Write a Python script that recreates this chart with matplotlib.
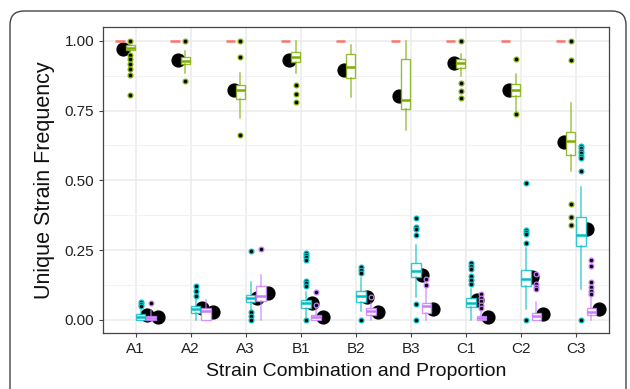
import numpy as np
import matplotlib
matplotlib.use('Agg')
import matplotlib.pyplot as plt
import matplotlib.patches as mpatches
import matplotlib.transforms as mtransforms
from matplotlib.colors import to_rgba

plt.rcParams['font.family'] = ['Liberation Sans', 'DejaVu Sans']

groups = ['A1', 'A2', 'A3', 'B1', 'B2', 'B3', 'C1', 'C2', 'C3']

# reference line (all 1.0)
red_vals = [1.0, 1.0, 1.0, 1.0, 1.0, 1.0, 1.0, 1.0, 1.0]

green_q1 = [0.965, 0.915, 0.790, 0.923, 0.867, 0.755, 0.904, 0.801, 0.590]
green_med = [0.975, 0.928, 0.825, 0.942, 0.906, 0.787, 0.921, 0.823, 0.640]
green_q3 = [0.985, 0.940, 0.843, 0.959, 0.951, 0.933, 0.936, 0.844, 0.674]
green_lo = [0.955, 0.883, 0.722, 0.885, 0.799, 0.680, 0.874, 0.736, 0.534]
green_hi = [0.990, 0.963, 0.886, 1.000, 0.983, 1.000, 0.952, 0.879, 0.777]
green_out = [[1.0, 0.948, 0.935, 0.917, 0.897, 0.877, 0.805], [1.0, 0.856], [1.0, 0.943, 0.661],
             [0.843, 0.809, 0.782], [], [], [1.0, 0.847, 0.820, 0.793], [0.936, 0.736],
             [1.0, 0.930, 0.415, 0.367, 0.341]]
green_mean = [0.972, 0.930, 0.823, 0.930, 0.895, 0.803, 0.921, 0.823, 0.636]

cyan_q1 = [0.000, 0.026, 0.065, 0.043, 0.064, 0.155, 0.045, 0.122, 0.266]
cyan_med = [0.012, 0.039, 0.077, 0.060, 0.086, 0.176, 0.062, 0.148, 0.304]
cyan_q3 = [0.020, 0.050, 0.089, 0.072, 0.104, 0.205, 0.078, 0.179, 0.367]
cyan_lo = [0.000, 0.000, 0.036, 0.010, 0.033, 0.083, 0.000, 0.039, 0.111]
cyan_hi = [0.036, 0.074, 0.137, 0.101, 0.151, 0.268, 0.111, 0.257, 0.477]
cyan_out = [[0.065, 0.058, 0.050], [0.122, 0.105, 0.087], [0.248, 0.028, 0.015, 0.0],
            [0.239, 0.233, 0.224, 0.215, 0.141, 0.133, 0.122, 0.0], [0.189, 0.179, 0.169, 0.0],
            [0.364, 0.334, 0.324, 0.304, 0.056, 0.0], [0.205, 0.194, 0.181, 0.157, 0.143, 0.129],
            [0.491, 0.322, 0.316, 0.308, 0.274, 0.0],
            [0.623, 0.614, 0.606, 0.596, 0.588, 0.579, 0.534, 0.0]]
cyan_mean = [0.019, 0.042, 0.080, 0.060, 0.081, 0.161, 0.072, 0.155, 0.324]

purple_q1 = [0.000, 0.000, 0.069, 0.000, 0.019, 0.026, 0.000, 0.000, 0.018]
purple_med = [0.007, 0.033, 0.087, 0.010, 0.032, 0.050, 0.007, 0.015, 0.030]
purple_q3 = [0.015, 0.044, 0.122, 0.018, 0.044, 0.062, 0.014, 0.026, 0.044]
purple_lo = [0.000, 0.000, 0.000, 0.000, 0.000, 0.000, 0.000, 0.000, 0.000]
purple_hi = [0.035, 0.072, 0.161, 0.048, 0.060, 0.115, 0.030, 0.063, 0.080]
purple_out = [[0.060], [], [0.253], [0.101, 0.054], [0.083], [0.146, 0.124],
              [0.093, 0.078, 0.066, 0.054, 0.042], [0.165, 0.128, 0.119, 0.110],
              [0.215, 0.194, 0.137, 0.119, 0.105, 0.093]]
purple_mean = [0.012, 0.028, 0.095, 0.010, 0.027, 0.038, 0.012, 0.021, 0.039]

RED = '#F8766D'
GREEN = '#7CAE00'
CYAN = '#00BFC4'
PURPLE = '#C77CFF'


def makeStats(q1, med, q3, lo, hi, out):
    return [dict(q1=q1[i], med=med[i], q3=q3[i], whislo=lo[i], whishi=hi[i], fliers=out[i])
            for i in range(len(med))]


def drawBoxes(ax, stats, pos, color):
    ax.bxp(stats, positions=pos, widths=0.17, showcaps=False, patch_artist=True,
           boxprops=dict(facecolor='white', edgecolor=to_rgba(color, 0.8), linewidth=1.0),
           whiskerprops=dict(color=to_rgba(color, 0.7), linewidth=1.1),
           medianprops=dict(color=color, linewidth=1.8),
           flierprops=dict(marker='o', markerfacecolor='black', markeredgecolor=color,
                           markersize=3.4, markeredgewidth=0.9),
           manage_ticks=False, zorder=3)


fig = plt.figure(figsize=(6.3, 3.89), dpi=100)
ax = fig.add_axes([102.5 / 630, 1 - 333.3 / 389, (609 - 102.5) / 630, (333.3 - 27.3) / 389])

x = np.arange(1, len(groups) + 1)

# mean points (partly hidden behind boxes)
ax.scatter(x - 0.22, green_mean, s=85, color='black', zorder=2)
ax.scatter(x + 0.20, cyan_mean, s=85, color='black', zorder=2)
ax.scatter(x + 0.41, purple_mean, s=85, color='black', zorder=2)

ax.hlines(red_vals, x - 0.28 - 0.085, x - 0.28 + 0.085, color=RED, linewidth=1.8, zorder=3)
drawBoxes(ax, makeStats(green_q1, green_med, green_q3, green_lo, green_hi, green_out), x - 0.094, GREEN)
drawBoxes(ax, makeStats(cyan_q1, cyan_med, cyan_q3, cyan_lo, cyan_hi, cyan_out), x + 0.094, CYAN)
drawBoxes(ax, makeStats(purple_q1, purple_med, purple_q3, purple_lo, purple_hi, purple_out), x + 0.28, PURPLE)

ax.set_xlim(0.4, 9.6)
ax.set_ylim(-0.048, 1.048)
ax.set_xticks(x)
ax.set_xticklabels(groups)
ax.set_yticks([0, 0.25, 0.5, 0.75, 1.0])
ax.set_yticklabels(['0.00', '0.25', '0.50', '0.75', '1.00'])
ax.set_yticks([0.125, 0.375, 0.625, 0.875], minor=True)
ax.grid(True, which='major', color='#EBEBEB', linewidth=1.1, zorder=0)
ax.grid(True, which='minor', axis='y', color='#F2F2F2', linewidth=0.8, zorder=0)
ax.set_axisbelow(True)
ax.tick_params(axis='both', which='major', length=3, width=0.8, color='#444444',
               labelsize=11, labelcolor='#222222', pad=3)
ax.tick_params(axis='y', which='minor', length=0)
for s in ax.spines.values():
    s.set_color('#444444')
    s.set_linewidth(0.9)

ax.set_xlabel('Strain Combination and Proportion', fontsize=14, color='#111111', labelpad=5)
ax.set_ylabel('Unique Strain Frequency', fontsize=15.5, color='#111111', labelpad=7)

# rounded outer frame, cut by the bottom edge
frame = mpatches.FancyBboxPatch((10, -30), 616, 408, boxstyle='round,pad=0,rounding_size=14',
                                transform=mtransforms.IdentityTransform(), facecolor='none',
                                edgecolor='#444444', linewidth=1.0)
fig.patches.append(frame)

fig.savefig('out.png', dpi=100)
